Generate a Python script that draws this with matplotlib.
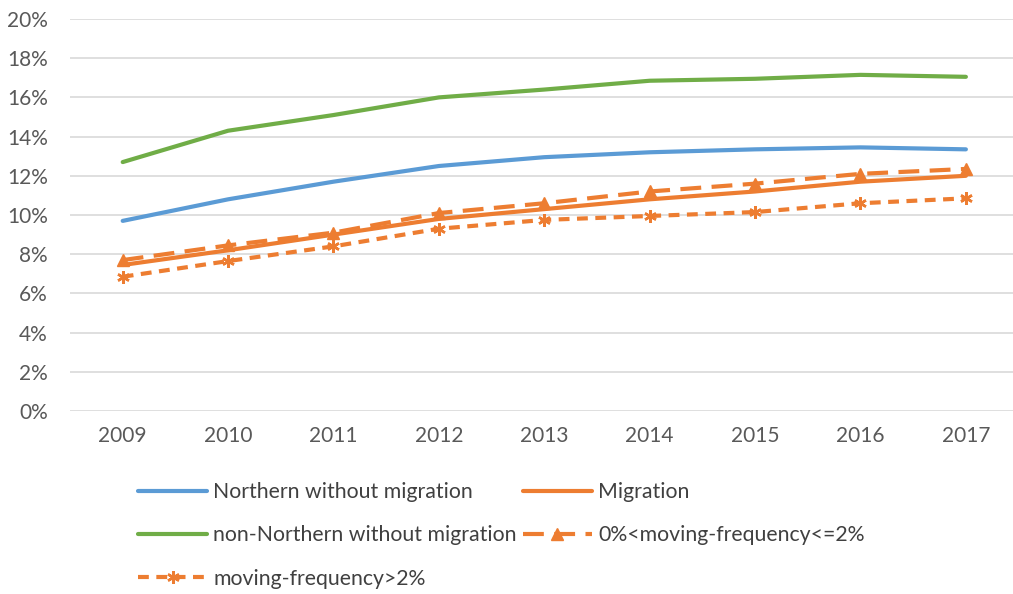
import matplotlib.pyplot as plt
from matplotlib.ticker import PercentFormatter

years = ['2009', '2010', '2011', '2012', '2013', '2014', '2015', '2016', '2017']

northern = [9.7, 10.8, 11.7, 12.5, 12.95, 13.2, 13.35, 13.45, 13.35]
non_northern = [12.7, 14.3, 15.1, 16.0, 16.4, 16.85, 16.95, 17.15, 17.05]
migration = [7.45, 8.2, 9.0, 9.8, 10.3, 10.8, 11.2, 11.7, 12.0]
low_freq = [7.7, 8.45, 9.1, 10.1, 10.6, 11.2, 11.6, 12.1, 12.35]
high_freq = [6.85, 7.65, 8.4, 9.3, 9.75, 9.95, 10.15, 10.6, 10.85]

blue = '#5B9BD5'
orange = '#ED7D31'
green = '#70AD47'

plt.rcParams['font.family'] = ['Lato', 'DejaVu Sans']

fig = plt.figure(figsize=(10.13, 5.94), dpi=100)
ax = fig.add_axes([70 / 1013, 1 - 411 / 594, 1 - 70 / 1013, (411 - 19) / 594])

x = range(len(years))
l1, = ax.plot(x, northern, color=blue, lw=3, solid_capstyle='round')
l2, = ax.plot(x, migration, color=orange, lw=3, solid_capstyle='round')
l3, = ax.plot(x, non_northern, color=green, lw=3, solid_capstyle='round')
l4, = ax.plot(x, low_freq, color=orange, lw=3, dashes=(5, 2.5),
              marker='^', markersize=8)
l5, = ax.plot(x, high_freq, color=orange, lw=3, dashes=(2.6, 1.8),
              marker=(6, 2, 0), markersize=9, markeredgewidth=1.8)

ax.set_xlim(-0.5, 8.447)
ax.set_ylim(0, 20)
ax.set_yticks(range(0, 21, 2))
ax.yaxis.set_major_formatter(PercentFormatter(decimals=0))
ax.set_xticks(list(x))
ax.set_xticklabels(years)
ax.grid(axis='y', color='#D9D9D9', lw=1.2)
ax.set_axisbelow(True)
for s in ax.spines.values():
    s.set_visible(False)
ax.tick_params(length=0, labelsize=15, colors='#595959')
ax.tick_params(axis='x', pad=11)
ax.tick_params(axis='y', pad=16)

# legend fills column by column, so order the entries to read across rows
fig.legend([l1, l3, l5, l2, l4],
           ['Northern without migration', 'non-Northern without migration',
            'moving-frequency>2%', 'Migration', '0%<moving-frequency<=2%'],
           ncol=2, loc='upper left', bbox_to_anchor=(138 / 1013, 1 - 482 / 594),
           frameon=False, fontsize=15.3, handlelength=3.25, handletextpad=0.28,
           columnspacing=0.3, labelspacing=1.1, labelcolor='#404040',
           borderpad=0, borderaxespad=0)

fig.savefig('out.png', dpi=100)
